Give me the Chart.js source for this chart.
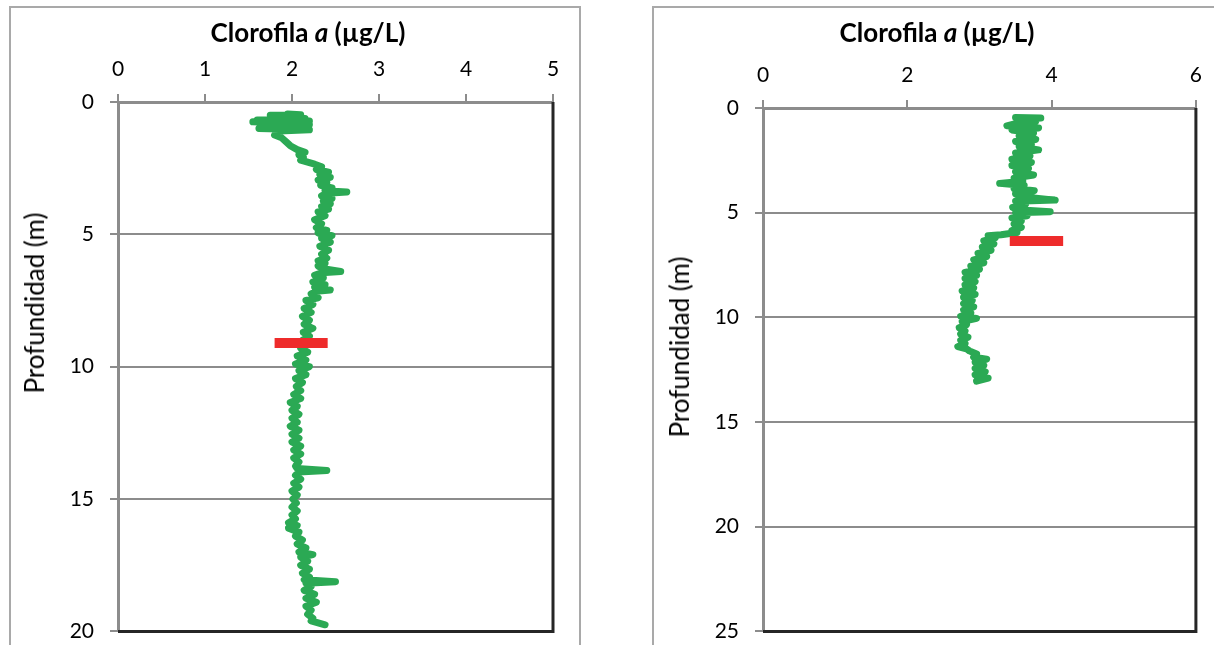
<!DOCTYPE html>
<html>
<head>
<meta charset="utf-8">
<script src="https://cdn.jsdelivr.net/npm/chart.js"></script>
<style>
    body { margin: 0; width: 1214px; height: 645px; overflow: hidden; background: #fff; position: relative; font-family: Lato, sans-serif; }
    .panel { position: absolute; top: 6px; height: 700px; border: 2px solid #a9a9a9; box-sizing: border-box; }
    canvas { position: absolute; top: 0; }
    .ttl { position: absolute; top: 17px; font-size: 26px; line-height: 31px; font-weight: bold; color: #000; transform: translateX(-50%); white-space: nowrap; }
    .ytl { position: absolute; font-size: 26px; color: #000; transform: translate(-50%, -50%) rotate(-90deg); white-space: nowrap; }
</style>
</head>
<body>
<div class="panel" style="left:9px; width:572px;"></div>
<div class="panel" style="left:652px; width:600px;"></div>
<canvas id="chart1" width="600" height="660" style="left:0;"></canvas>
<canvas id="chart2" width="594" height="660" style="left:620px;"></canvas>
<div class="ttl" style="left:308px;">Clorofila <i>a</i> (µg/L)</div>
<div class="ttl" style="left:937px;">Clorofila <i>a</i> (µg/L)</div>
<div class="ytl" style="left:34px; top:303px;">Profundidad (m)</div>
<div class="ytl" style="left:679px; top:347px;">Profundidad (m)</div>
<script>
// profile 1 (left panel): depth (m) and chlorophyll a (ug/L)
const depth1 = [0.45,0.48,0.5,0.55,0.6,0.62,0.68,0.72,0.75,0.8,
    0.85,0.9,0.95,1.0,1.05,1.1,1.25,1.35,1.5,1.65,
    1.8,1.9,2.0,2.1,2.2,2.35,2.45,2.55,2.65,2.75,
    2.85,2.95,3.05,3.15,3.25,3.35,3.4,3.45,3.55,3.65,
    3.75,3.85,3.95,4.05,4.15,4.3,4.45,4.6,4.75,4.85,
    4.95,5.05,5.15,5.3,5.45,5.6,5.75,5.9,6.0,6.1,
    6.2,6.3,6.4,6.45,6.55,6.65,6.8,6.9,7.0,7.1,
    7.15,7.25,7.4,7.5,7.65,7.8,7.95,8.1,8.25,8.4,
    8.55,8.7,8.85,9.0,9.15,9.3,9.45,9.6,9.75,9.9,
    10.0,10.15,10.3,10.45,10.6,10.75,10.9,11.05,11.2,11.35,
    11.5,11.65,11.8,11.95,12.1,12.25,12.4,12.55,12.7,12.85,
    13.0,13.15,13.3,13.45,13.6,13.75,13.85,13.92,13.98,14.1,
    14.25,14.4,14.55,14.7,14.85,15.0,15.15,15.3,15.45,15.6,
    15.75,15.9,16.0,16.1,16.25,16.4,16.55,16.7,16.85,17.0,
    17.1,17.2,17.35,17.5,17.65,17.8,17.95,18.05,18.12,18.18,
    18.3,18.45,18.6,18.75,18.9,19.05,19.2,19.35,19.5,19.6,
    19.75];
const chl1 = [1.95,2.1,1.75,2.05,1.85,2.15,1.6,2.2,1.55,1.9,
    2.2,1.7,2.05,1.62,2.2,1.85,1.8,1.88,1.93,1.98,
    2.06,2.15,2.08,2.13,2.1,2.26,2.34,2.28,2.42,2.32,
    2.44,2.3,2.4,2.33,2.46,2.38,2.63,2.4,2.34,2.46,
    2.36,2.44,2.34,2.42,2.3,2.38,2.26,2.34,2.28,2.4,
    2.3,2.46,2.34,2.44,2.32,2.42,2.34,2.4,2.3,2.38,
    2.3,2.36,2.56,2.34,2.26,2.36,2.24,2.38,2.26,2.44,
    2.28,2.22,2.3,2.16,2.24,2.14,2.22,2.12,2.2,2.14,
    2.24,2.13,2.2,2.12,2.16,2.1,2.18,2.06,2.16,2.04,
    2.2,2.08,2.16,2.04,2.12,2.05,2.1,2.02,2.1,1.98,
    2.06,2.0,2.08,2.0,2.06,1.98,2.08,2.0,2.08,2.0,
    2.1,2.02,2.1,2.02,2.08,2.04,2.06,2.4,2.08,2.04,
    2.1,2.02,2.08,2.0,2.06,2.01,2.05,2.0,2.06,2.0,
    2.04,1.96,2.06,1.96,2.08,2.04,2.12,2.06,2.16,2.08,
    2.24,2.1,2.18,2.1,2.2,2.12,2.2,2.14,2.5,2.16,
    2.22,2.14,2.26,2.16,2.28,2.16,2.22,2.18,2.24,2.22,
    2.38];
// red marker on profile 1
const markDepth1 = [9.1, 9.1];
const markChl1 = [1.8, 2.41];

// profile 2 (right panel)
const depth2 = [0.45,0.48,0.55,0.65,0.75,0.85,0.95,1.05,1.2,1.35,
    1.5,1.6,1.75,1.85,2.0,2.15,2.3,2.45,2.6,2.75,
    2.9,3.05,3.2,3.35,3.5,3.6,3.7,3.85,3.95,4.1,
    4.25,4.4,4.45,4.6,4.75,4.9,4.95,5.0,5.15,5.25,
    5.4,5.55,5.7,5.85,5.95,6.05,6.1,6.2,6.35,6.5,
    6.65,6.8,6.95,7.1,7.25,7.4,7.55,7.7,7.85,8.0,
    8.15,8.3,8.45,8.6,8.75,8.9,9.05,9.2,9.35,9.5,
    9.65,9.8,9.95,10.05,10.2,10.35,10.5,10.65,10.8,10.95,
    11.1,11.25,11.4,11.5,11.6,11.75,11.9,12.0,12.15,12.3,
    12.45,12.6,12.75,12.9,13.05];
const chl2 = [3.5,3.85,3.55,3.78,3.5,3.38,3.82,3.45,3.75,3.55,
    3.78,3.5,3.72,3.55,3.82,3.5,3.7,3.45,3.72,3.45,
    3.68,3.5,3.75,3.48,3.6,3.28,3.62,3.48,3.76,3.5,
    3.62,4.05,3.5,3.64,3.46,3.7,3.98,3.5,3.66,3.45,
    3.58,3.48,3.58,3.45,3.52,3.3,3.12,3.22,3.06,3.2,
    3.04,3.16,2.98,3.1,2.92,3.06,2.88,3.0,2.8,2.96,
    2.8,2.94,2.8,2.92,2.76,2.94,2.78,2.9,2.78,2.92,
    2.78,2.88,2.74,2.96,2.76,2.82,2.72,2.8,2.74,2.84,
    2.74,2.8,2.7,2.82,2.86,2.96,2.92,3.1,2.94,3.06,
    2.94,3.08,2.94,3.12,2.96];
const markDepth2 = [6.35, 6.35];
const markChl2 = [3.42, 4.16];

// axis ticks
const xTicks1 = [0, 1, 2, 3, 4, 5];
const yTicks1 = [0, 5, 10, 15, 20];
const xTicks2 = [0, 2, 4, 6];
const yTicks2 = [0, 5, 10, 15, 20, 25];

const gray = '#8c8c8c';

// black right and bottom edge of the plot area
const frameLines = {
    id: 'frameLines',
    afterDraw(chart) {
        const a = chart.chartArea;
        const ctx = chart.ctx;
        ctx.save();
        ctx.strokeStyle = '#262626';
        ctx.lineWidth = 3;
        ctx.beginPath();
        ctx.moveTo(a.left, a.bottom);
        ctx.lineTo(a.right, a.bottom);
        ctx.lineTo(a.right, a.top);
        ctx.stroke();
        ctx.restore();
    }
};

function toPoints(xs, ys) {
    return xs.map((x, i) => ({ x: x, y: ys[i] }));
}

function makeChart(id, depth, chl, mDepth, mChl, xTicks, yTicks, yWidth, xHeight, padRight) {
    const tickFont = { family: 'Lato', size: 21 };
    new Chart(document.getElementById(id), {
        type: 'scatter',
        data: {
            datasets: [
                {
                    data: toPoints(mChl, mDepth),
                    showLine: true,
                    borderColor: '#ee2b2b',
                    borderWidth: 10,
                    borderCapStyle: 'butt',
                    pointRadius: 0,
                    order: 0,
                },
                {
                    data: toPoints(chl, depth),
                    showLine: true,
                    borderColor: '#2ba954',
                    borderWidth: 7,
                    borderCapStyle: 'round',
                    borderJoinStyle: 'round',
                    pointRadius: 0,
                    order: 1,
                },
            ],
        },
        options: {
            responsive: false,
            animation: false,
            events: [],
            layout: { padding: { left: 0, top: 0, right: padRight, bottom: 13 } },
            plugins: { legend: { display: false }, tooltip: { enabled: false } },
            scales: {
                x: {
                    type: 'linear',
                    position: 'top',
                    min: xTicks[0],
                    max: xTicks[xTicks.length - 1],
                    ticks: { stepSize: xTicks[1] - xTicks[0], padding: 12, color: '#000', font: tickFont },
                    grid: { drawOnChartArea: false, color: gray, lineWidth: 2, tickLength: 8 },
                    border: { color: gray, width: 3 },
                    afterFit(scale) { scale.height = xHeight; },
                },
                y: {
                    type: 'linear',
                    reverse: true,
                    min: yTicks[0],
                    max: yTicks[yTicks.length - 1],
                    ticks: { stepSize: yTicks[1] - yTicks[0], padding: 16, color: '#000', font: tickFont },
                    grid: { color: gray, lineWidth: 2, tickLength: 8 },
                    border: { color: gray, width: 3 },
                    afterFit(scale) { scale.width = yWidth; },
                },
            },
        },
        plugins: [frameLines],
    });
}

makeChart('chart1', depth1, chl1, markDepth1, markChl1, xTicks1, yTicks1, 118, 102, 47);
makeChart('chart2', depth2, chl2, markDepth2, markChl2, xTicks2, yTicks2, 143, 108, 17);
</script>
</body>
</html>
